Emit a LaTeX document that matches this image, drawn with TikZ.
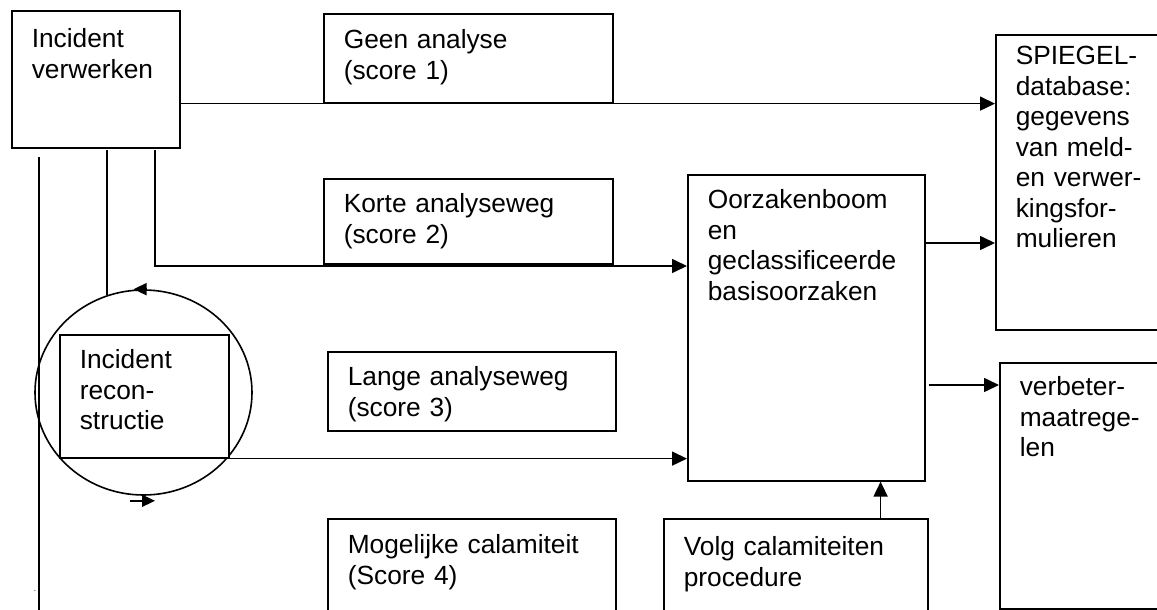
\documentclass[tikz,border=0pt]{standalone}
\usepackage{fontspec}
\setmainfont{Liberation Sans}
\usetikzlibrary{arrows.meta,shapes.geometric}
\newcommand{\boxfont}{\fontsize{26.3}{30.5}\selectfont}
\tikzset{box/.style={draw, line width=1.6pt, anchor=north west, inner xsep=20pt, inner ysep=0pt, align=left, font=\boxfont},
  arr/.style={-{Triangle[length=15pt,width=14pt]}, line width=1.6pt},
  ln/.style={line width=1.6pt}}

\begin{document}
\begin{tikzpicture}[x=1pt, y=-1pt]
  \useasboundingbox (0,0) rectangle (1157,610);
  \clip (0,0) rectangle (1157,610);

  \node[box, text width=128pt, text height=37pt, text depth=100pt] (inc) at (11,10) {Incident\\verwerken};
  \node[box, text width=249pt, text height=35pt, text depth=54pt] (geen) at (323,13) {Geen analyse\\(score 1)};
  \node[box, text width=249pt, text height=34pt, text depth=51pt] (korte) at (323,178) {Korte analyseweg\\(score 2)};
  \node[box, text width=248pt, text height=34pt, text depth=45pt] (lange) at (327,351) {Lange analyseweg\\(score 3)};
  \node[box, text width=248pt, text height=35pt, text depth=67pt] (mog) at (327,518) {Mogelijke calamiteit\\(Score 4)};
  \node[box, text width=197pt, text height=34pt, text depth=272pt] (oorz) at (687,174) {Oorzakenboom\\en\\geclassificeerde\\basisoorzaken};
  \node[box, text width=224pt, text height=37pt, text depth=65pt] (volg) at (663,518) {Volg calamiteiten\\procedure};
  \node[box, text width=140pt, text height=30pt, text depth=265pt] (spiegel) at (995,34) {SPIEGEL-\\database:\\gegevens\\van meld-\\en verwer-\\kingsfor-\\mulieren};
  \node[box, text width=140pt, text height=33pt, text depth=213pt] (verb) at (999,362) {verbeter-\\maatrege-\\len};
  \node[draw, ln, ellipse, minimum width=217pt, minimum height=205pt] (cyc) at (143.5,392.5) {};
  \node[box, fill=white, text width=129pt, text height=34pt, text depth=89pt] (recon) at (59,334) {Incident\\recon-\\structie};
  \node[font=\fontsize{8}{8}\selectfont, inner sep=0pt] (dot) at (35,591) {.};

  \coordinate (t1) at (39,157);
  \coordinate (t1e) at (39,615);
  \coordinate (t2) at (107,150);
  \coordinate (t3) at (155,150);
  \coordinate (j3) at (0,266);

  \draw[arr] (inc.east |- geen.south) -- (spiegel.west |- geen.south);
  \draw[ln] (t1) -- (t1e);
  \draw[ln] (t2) -- (t2 |- cyc.110);
  \draw[arr] (t3) |- (oorz.west |- j3);
  \draw[arr] (recon.south east) -- (recon.south east -| oorz.west);
  \draw[arr] ([yshift=-69pt]oorz.north east) -- ([yshift=-69pt]oorz.north east -| spiegel.west);
  \draw[arr] ([shift={(3pt,-23pt)}]oorz.east |- verb.north) -- ([yshift=-23pt]verb.north west);
  \draw[arr] ([xshift=-48pt]volg.north east) -- ([xshift=-48pt]volg.north east |- oorz.south);

  \draw[-{Triangle[length=13pt,width=12pt]}, ln] ([xshift=3pt]cyc.north) -- ([xshift=-10pt]cyc.north);
  \draw[-{Triangle[length=13pt,width=12pt]}, ln] ([shift={(-13.5pt,-5pt)}]cyc.south) -- ([shift={(11.5pt,-5pt)}]cyc.south);
\end{tikzpicture}
\end{document}
